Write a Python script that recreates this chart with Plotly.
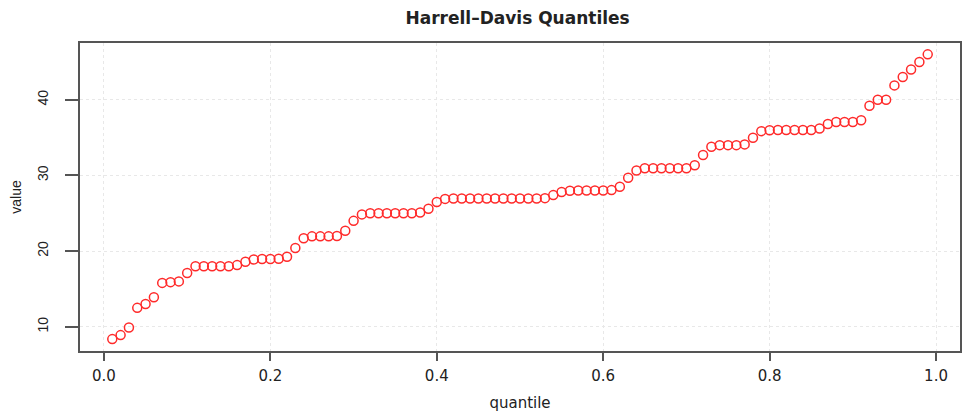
import plotly.graph_objects as go

quantile = [0.01, 0.02, 0.03, 0.04, 0.05, 0.06, 0.07, 0.08, 0.09, 0.10,
            0.11, 0.12, 0.13, 0.14, 0.15, 0.16, 0.17, 0.18, 0.19, 0.20,
            0.21, 0.22, 0.23, 0.24, 0.25, 0.26, 0.27, 0.28, 0.29, 0.30,
            0.31, 0.32, 0.33, 0.34, 0.35, 0.36, 0.37, 0.38, 0.39, 0.40,
            0.41, 0.42, 0.43, 0.44, 0.45, 0.46, 0.47, 0.48, 0.49, 0.50,
            0.51, 0.52, 0.53, 0.54, 0.55, 0.56, 0.57, 0.58, 0.59, 0.60,
            0.61, 0.62, 0.63, 0.64, 0.65, 0.66, 0.67, 0.68, 0.69, 0.70,
            0.71, 0.72, 0.73, 0.74, 0.75, 0.76, 0.77, 0.78, 0.79, 0.80,
            0.81, 0.82, 0.83, 0.84, 0.85, 0.86, 0.87, 0.88, 0.89, 0.90,
            0.91, 0.92, 0.93, 0.94, 0.95, 0.96, 0.97, 0.98, 0.99]

value = [8.37, 8.9, 9.9, 12.5, 13.0, 13.9, 15.8, 15.9, 16.0, 17.1,
         18.0, 18.0, 18.0, 18.0, 18.0, 18.15, 18.6, 18.9, 18.95, 18.95,
         19.0, 19.25, 20.4, 21.7, 21.95, 21.95, 21.95, 22.0, 22.7, 24.0,
         24.85, 25.0, 25.0, 25.0, 25.0, 25.0, 25.0, 25.1, 25.6, 26.5,
         26.9, 26.95, 26.95, 26.95, 26.95, 26.95, 26.95, 26.95, 26.95, 26.95,
         26.95, 26.95, 27.0, 27.4, 27.8, 27.97, 28.0, 28.0, 28.0, 28.0,
         28.06, 28.5, 29.7, 30.65, 30.95, 30.95, 30.95, 30.95, 30.95, 30.95,
         31.35, 32.7, 33.8, 34.0, 34.0, 34.0, 34.1, 34.97, 35.85, 35.98,
         36.0, 36.0, 36.0, 36.0, 36.0, 36.2, 36.8, 37.05, 37.05, 37.05,
         37.3, 39.2, 40.0, 40.0, 41.9, 43.0, 44.0, 45.0, 46.0]

x_ticks = [0.0, 0.2, 0.4, 0.6, 0.8, 1.0]
x_tick_labels = ["0.0", "0.2", "0.4", "0.6", "0.8", "1.0"]
y_ticks = [10, 20, 30, 40]
y_tick_labels = ["10", "20", "30", "40"]

fig = go.Figure()
fig.add_trace(go.Scatter(
    x=quantile, y=value, mode="markers",
    marker=dict(symbol="circle-open", size=9, color="#ff2a2a",
                line=dict(width=1.5, color="#ff2a2a")),
    showlegend=False,
))

fig.update_layout(
    width=963, height=412,
    margin=dict(l=80, r=1, t=43, b=61),
    paper_bgcolor="white", plot_bgcolor="white",
    title=dict(text="<b>Harrell\u2013Davis Quantiles</b>", x=0.5375, xanchor="center",
               y=0.957, yanchor="middle",
               font=dict(family="DejaVu Sans", size=17, color="#222222")),
    xaxis=dict(range=[-0.0288, 1.0288], tickvals=x_ticks, ticktext=x_tick_labels,
               ticks="outside", ticklen=8, tickcolor="#555555", tickwidth=1.5,
               showline=True, linecolor="#555555", linewidth=1.5, mirror=True,
               showgrid=True, gridcolor="#e8e8e8", griddash="dot", gridwidth=1,
               zeroline=False, ticklabelstandoff=2,
               tickfont=dict(family="DejaVu Sans", size=15, color="#222222"),
               title=dict(text="quantile", standoff=15,
                          font=dict(family="DejaVu Sans", size=15, color="#222222"))),
    yaxis=dict(range=[6.8, 47.5], tickvals=y_ticks, ticktext=y_tick_labels,
               ticks="outside", ticklen=13, tickcolor="#555555", tickwidth=1.5,
               showline=True, linecolor="#555555", linewidth=1.5, mirror=True,
               showgrid=True, gridcolor="#e8e8e8", griddash="dot", gridwidth=1,
               zeroline=False, tickangle=-90, ticklabelstandoff=12,
               tickfont=dict(family="Liberation Sans", size=14, color="#222222"),
               title=dict(text="value", standoff=10,
                          font=dict(family="Liberation Sans", size=14, color="#222222"))),
)

fig.write_html("out.html", config={"displayModeBar": False},
               post_script="document.body.style.margin='0';")
